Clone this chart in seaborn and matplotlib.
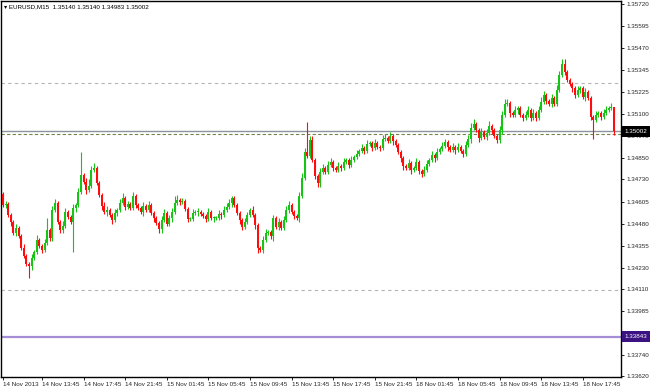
import numpy as np
import pandas as pd
import matplotlib
matplotlib.use("Agg")
import matplotlib.pyplot as plt
import seaborn as sns

# EURUSD M15 closes (bar 0 = 14 Nov 10:00)
closes = [
    1.34586, 1.34591, 1.34529, 1.34490, 1.34428, 1.34456, 1.34411, 1.34343, 1.34298, 1.34253,
    1.34241, 1.34287, 1.34320, 1.34388, 1.34354, 1.34332, 1.34371, 1.34445, 1.34400, 1.34558,
    1.34597, 1.34490, 1.34445, 1.34467, 1.34546, 1.34518, 1.34490, 1.34569, 1.34586, 1.34659,
    1.34755, 1.34716, 1.34670, 1.34693, 1.34783, 1.34795, 1.34710, 1.34642, 1.34580, 1.34546,
    1.34558, 1.34529, 1.34501, 1.34541, 1.34558, 1.34597, 1.34625, 1.34575, 1.34591, 1.34569,
    1.34637, 1.34586, 1.34569, 1.34546, 1.34580, 1.34558, 1.34586, 1.34541, 1.34512, 1.34484,
    1.34450, 1.34501, 1.34541, 1.34479, 1.34512, 1.34546, 1.34597, 1.34614, 1.34603, 1.34608,
    1.34563, 1.34507, 1.34507, 1.34541, 1.34546, 1.34546, 1.34535, 1.34524, 1.34507, 1.34546,
    1.34512, 1.34512, 1.34512, 1.34535, 1.34529, 1.34558, 1.34575, 1.34597, 1.34625, 1.34586,
    1.34541, 1.34501, 1.34462, 1.34490, 1.34529, 1.34558, 1.34529, 1.34473, 1.34343, 1.34332,
    1.34388, 1.34428, 1.34433, 1.34411, 1.34512, 1.34462, 1.34490, 1.34456, 1.34501, 1.34558,
    1.34586, 1.34546, 1.34524, 1.34512, 1.34637, 1.34738, 1.34885, 1.34862, 1.34953, 1.34840,
    1.34750, 1.34710, 1.34772, 1.34795, 1.34772, 1.34812, 1.34829, 1.34795, 1.34783, 1.34806,
    1.34795, 1.34829, 1.34840, 1.34812, 1.34840, 1.34857, 1.34874, 1.34891, 1.34908, 1.34891,
    1.34930, 1.34936, 1.34908, 1.34936, 1.34913, 1.34908, 1.34958, 1.34964, 1.34947, 1.34975,
    1.34947, 1.34925, 1.34885, 1.34851, 1.34806, 1.34795, 1.34823, 1.34783, 1.34795, 1.34829,
    1.34778, 1.34761, 1.34783, 1.34817, 1.34840, 1.34868, 1.34851, 1.34885, 1.34902, 1.34919,
    1.34941, 1.34913, 1.34896, 1.34913, 1.34896, 1.34913, 1.34891, 1.34874, 1.34925, 1.34958,
    1.35020, 1.35043, 1.35009, 1.34964, 1.34998, 1.34970, 1.34992, 1.35032, 1.35009, 1.34975,
    1.34953, 1.35009, 1.35094, 1.35156, 1.35162, 1.35105, 1.35094, 1.35122, 1.35133, 1.35094,
    1.35077, 1.35094, 1.35122, 1.35077, 1.35105, 1.35077, 1.35122, 1.35167, 1.35207, 1.35173,
    1.35156, 1.35190, 1.35156, 1.35235, 1.35320, 1.35382, 1.35337, 1.35291, 1.35269, 1.35246,
    1.35207, 1.35235, 1.35246, 1.35195, 1.35224, 1.35190, 1.35083, 1.35066, 1.35094, 1.35105,
    1.35083, 1.35105, 1.35122, 1.35133, 1.35140, 1.35002,
]
first_open = 1.34648

# shadows above / below the body, in pips
up_wick = [
    1, 2, 1, 1, 1, 2, 1, 1, 2, 1, 1, 2, 1, 3, 1, 1, 2, 7, 1, 2,
    2, 1, 1, 3, 2, 1, 1, 2, 1, 2, 13, 1, 2, 4, 2, 3, 1, 1, 1, 2,
    2, 1, 1, 2, 1, 2, 3, 1, 2, 1, 2, 1, 1, 1, 2, 1, 2, 1, 1, 1,
    1, 2, 2, 1, 2, 2, 4, 3, 1, 2, 1, 1, 1, 2, 1, 2, 1, 1, 1, 2,
    1, 1, 1, 2, 1, 2, 2, 2, 1, 1, 1, 1, 1, 2, 2, 1, 2, 1, 1, 1,
    2, 2, 1, 1, 2, 1, 2, 1, 2, 2, 2, 1, 1, 1, 2, 3, 2, 17, 2, 2,
    1, 1, 2, 2, 1, 2, 2, 1, 1, 2, 1, 2, 1, 1, 2, 1, 2, 1, 2, 1,
    2, 1, 1, 2, 1, 1, 2, 2, 1, 2, 1, 1, 1, 1, 1, 1, 2, 1, 1, 2,
    1, 1, 2, 2, 1, 2, 1, 2, 1, 2, 2, 1, 1, 2, 1, 2, 1, 1, 2, 2,
    3, 3, 1, 1, 2, 1, 2, 3, 1, 1, 1, 2, 2, 3, 2, 1, 1, 2, 1, 1,
    1, 2, 2, 1, 2, 1, 2, 3, 2, 1, 1, 2, 1, 3, 2, 3, 3, 1, 1, 1,
    1, 2, 1, 1, 2, 1, 1, 1, 2, 1, 1, 2, 2, 1, 2, 0,
]
dn_wick = [
    1, 2, 1, 2, 1, 2, 1, 1, 1, 1, 7, 2, 1, 1, 1, 2, 1, 1, 2, 2,
    1, 1, 2, 2, 1, 1, 1, 17, 2, 1, 1, 1, 2, 1, 1, 1, 1, 1, 2, 1,
    2, 1, 2, 1, 2, 1, 1, 2, 1, 1, 1, 2, 1, 1, 2, 1, 1, 1, 2, 1,
    2, 2, 1, 1, 1, 2, 1, 1, 2, 1, 1, 2, 1, 1, 1, 2, 1, 1, 2, 1,
    1, 2, 1, 1, 2, 1, 1, 1, 2, 1, 1, 2, 2, 1, 1, 1, 1, 2, 3, 1,
    2, 1, 1, 2, 3, 1, 2, 1, 1, 1, 2, 1, 2, 1, 2, 1, 1, 1, 1, 1,
    2, 2, 2, 1, 1, 1, 1, 2, 1, 1, 2, 1, 1, 2, 1, 1, 1, 1, 1, 2,
    1, 1, 2, 1, 1, 2, 1, 1, 1, 1, 2, 1, 1, 2, 2, 1, 1, 2, 1, 1,
    2, 2, 1, 1, 1, 1, 2, 1, 1, 1, 1, 2, 1, 1, 2, 1, 1, 2, 1, 1,
    2, 1, 1, 2, 1, 1, 2, 1, 2, 1, 2, 2, 2, 1, 1, 2, 1, 1, 2, 1,
    2, 1, 1, 2, 1, 2, 1, 1, 1, 2, 1, 2, 1, 1, 1, 1, 2, 1, 1, 2,
    2, 1, 2, 1, 2, 1, 2, 11, 1, 1, 2, 1, 1, 1, 1, 2,
]

price_ticks = [1.35720, 1.35595, 1.35470, 1.35345, 1.35225, 1.35100, 1.34975, 1.34850,
               1.34730, 1.34605, 1.34480, 1.34355, 1.34230, 1.34110, 1.33985, 1.33860,
               1.33740, 1.33620]
time_bars = [0, 15, 31, 47, 63, 79, 95, 111, 127, 143, 159, 175, 191, 207, 223]
time_labels = ["14 Nov 2013", "14 Nov 13:45", "14 Nov 17:45", "14 Nov 21:45",
               "15 Nov 01:45", "15 Nov 05:45", "15 Nov 09:45", "15 Nov 13:45",
               "15 Nov 17:45", "15 Nov 21:45", "18 Nov 01:45", "18 Nov 05:45",
               "18 Nov 09:45", "18 Nov 13:45", "18 Nov 17:45"]

bid = 1.35002
purple_level = 1.33843
grey_levels = [1.35276, 1.34106]
olive_level = 1.34986
title = "\u25be EURUSD,M15  1.35140 1.35140 1.34983 1.35002"

# build OHLC
df = pd.DataFrame({"close": closes})
df["open"] = [first_open] + closes[:-1]
df["bar"] = np.arange(len(df))
body_top = df[["open", "close"]].max(axis=1)
body_bot = df[["open", "close"]].min(axis=1)
df["high"] = body_top + np.array(up_wick) * 0.0001
df["low"] = body_bot - np.array(dn_wick) * 0.0001
df["up"] = df["close"] >= df["open"]

green = "#16c416"
red = "#ff0c0c"
colors = np.where(df["up"], green, red)

sns.set_theme(style="white")
plt.rcParams["font.family"] = ["Liberation Sans", "DejaVu Sans"]

fig = plt.figure(figsize=(6.5, 3.9), dpi=100)
ax = fig.add_axes([1 / 650, 13 / 390, 620 / 650, 376 / 390])

# levels
for lv in grey_levels:
    ax.axhline(lv, color="#b4b4b4", lw=0.8, ls=(0, (3, 3)), zorder=1)
ax.axhline(olive_level, color="#75804a", lw=0.8, ls=(0, (3, 2)), zorder=1)
ax.axhline(bid, color="#8a949c", lw=1.0, zorder=1)
ax.axhline(purple_level, color="#a68ed6", lw=1.6, zorder=1)

# candles
ax.vlines(df["bar"], df["low"], df["high"], colors=colors, lw=0.8, zorder=2)
heights = np.maximum(body_top - body_bot, 0.00004)
ax.bar(df["bar"], heights, bottom=body_bot, width=0.82, color=colors,
       linewidth=0, zorder=3)

ax.set_xlim(-0.77, 237.7)
ax.set_ylim(1.33615, 1.35737)

for s in ax.spines.values():
    s.set_color("black")
    s.set_linewidth(1.0)

ax.yaxis.tick_right()
ax.set_yticks(price_ticks)
ax.set_yticklabels([f"{p:.5f}" for p in price_ticks])
ax.set_xticks(time_bars)
ax.set_xticklabels(time_labels)
for lab in ax.get_xticklabels():
    lab.set_horizontalalignment("left")
ax.tick_params(axis="y", which="both", right=True, left=False, length=2.5,
               width=0.6, color="black", pad=1.5, labelsize=4.5, direction="out")
ax.tick_params(axis="x", which="both", bottom=True, length=2.5, width=0.6,
               color="black", pad=1.0, labelsize=4.5, direction="out")
ax.grid(False)

# price boxes on the right scale (they cover the tick label underneath, as in MT4)
tr = ax.get_yaxis_transform()
ax.text(1.006, bid, f"{bid:.5f}", transform=tr, fontsize=4.5, color="white",
        va="center", ha="left", zorder=5, clip_on=False,
        bbox=dict(boxstyle="square,pad=0.45", fc="black", ec="none"))
ax.text(1.006, purple_level, f"{purple_level:.5f}", transform=tr, fontsize=4.5,
        color="white", va="center", ha="left", zorder=5, clip_on=False,
        bbox=dict(boxstyle="square,pad=0.45", fc="#3a1282", ec="none"))

fig.text(4 / 650, 1 - 7 / 390, title, fontsize=4.5, color="black",
         va="center", ha="left")

fig.savefig("out.png", dpi=100, facecolor="white")
